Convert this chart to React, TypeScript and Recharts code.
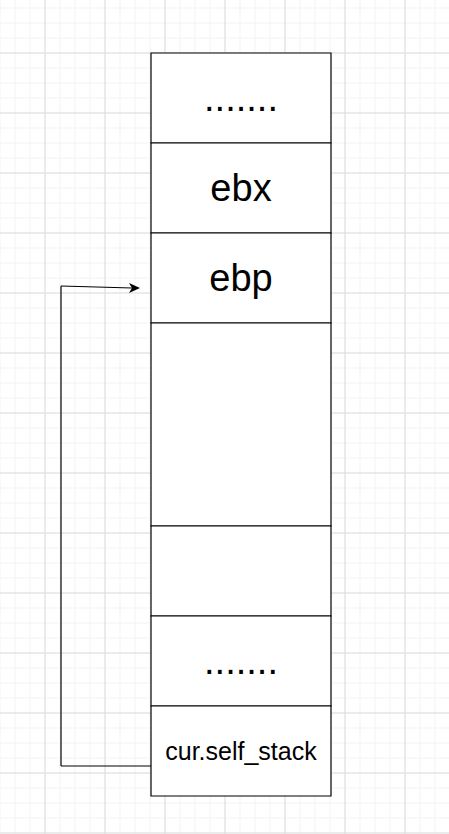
import React from "react";
import { ComposedChart, XAxis, YAxis, ReferenceLine, ReferenceArea, ReferenceDot, CartesianGrid } from "recharts";

const W = 449, H = 834;
const segTops = [53, 143, 233, 323, 526, 616, 706];
const segBottoms = [143, 233, 323, 526, 616, 706, 796];
const segLabels = [".......", "ebx", "ebp", "", "", ".......", "cur.self_stack"];
const segFontSizes = [38, 38, 38, 38, 38, 38, 25];
const boxLeft = 151, boxRight = 331;
const minorX = Array.from({ length: 31 }, (_, i) => 0 + i * 15);
const minorY = Array.from({ length: 57 }, (_, i) => 8 + i * 15);
const majorX = [45, 105, 165, 225, 285, 345, 405];
const majorY = [53, 113, 173, 233, 293, 353, 413, 473, 533, 593, 653, 713, 773, 833];
const pathPts = [{ x: 151, y: 766 }, { x: 61, y: 766 }, { x: 61, y: 286 }, { x: 132, y: 288 }];
const arrowTip = { x: 140, y: 288 };

const Arrow = (p: any) => (
  <polygon points={`${p.cx},${p.cy} ${p.cx - 11},${p.cy - 5} ${p.cx - 8},${p.cy} ${p.cx - 11},${p.cy + 5}`} fill="#000" />
);

export default function App() {
  return (
    <div style={{ position: "absolute", left: 0, top: 0, background: "#fff" }}>
      <ComposedChart width={W} height={H} margin={{ top: 0, right: 0, bottom: 0, left: 0 }}>
        <XAxis type="number" dataKey="x" domain={[0, W]} hide allowDataOverflow />
        <YAxis type="number" dataKey="y" domain={[0, H]} reversed hide allowDataOverflow />
        <CartesianGrid horizontalPoints={minorY} verticalPoints={minorX} stroke="#f3f3f3" />
        <CartesianGrid horizontalPoints={majorY} verticalPoints={majorX} stroke="#dddddd" />
        {segTops.map((t, i) => (
          <ReferenceArea key={"s" + i} x1={boxLeft} x2={boxRight} y1={t} y2={segBottoms[i]}
            fill="#ffffff" fillOpacity={1} stroke="#000" strokeWidth={1.2}
            label={{ value: segLabels[i], position: "center", fill: "#000", fontSize: segFontSizes[i], fontFamily: "Arial, Liberation Sans, sans-serif" }} />
        ))}
        {pathPts.slice(1).map((p, i) => (
          <ReferenceLine key={"p" + i} segment={[pathPts[i], p]} stroke="#000" strokeWidth={1.2} />
        ))}
        <ReferenceDot x={arrowTip.x} y={arrowTip.y} shape={Arrow} />
      </ComposedChart>
    </div>
  );
}
